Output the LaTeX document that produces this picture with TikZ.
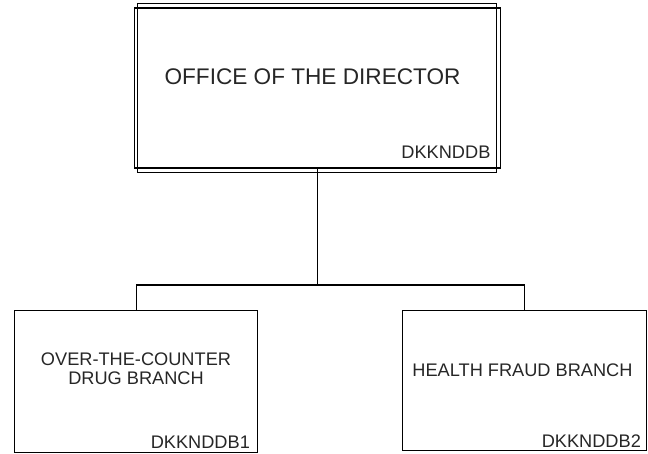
\documentclass[tikz,border=0pt]{standalone}
\usepackage{fontspec}
\setmainfont{Liberation Sans}
\begin{document}
\begin{tikzpicture}[x=1pt,y=-1pt,
  unitbox/.style={draw=black,line width=1.1pt,rectangle,inner sep=0pt,anchor=north west},
  innerframe/.style={draw=black,line width=1.1pt},
  conn/.style={draw=black,line width=1.1pt},
  titletext/.style={inner sep=0pt,text=black!85,font=\fontsize{22.6}{24}\selectfont},
  branchtext/.style={inner sep=0pt,text=black!85,align=center,font=\fontsize{18.2}{18.5}\selectfont},
  codetext/.style={inner sep=0pt,text=black!85,anchor=base east,font=\fontsize{18.2}{20}\selectfont}]
\useasboundingbox (0,0) rectangle (648,454);
% boxes
\node[unitbox,minimum width=366pt,minimum height=160pt] (top) at (133.5,7.5) {};
\draw[innerframe] ([shift={(3.8pt,3.8pt)}]top.north west) rectangle ([shift={(-3.8pt,-3.8pt)}]top.south east);
\node[unitbox,minimum width=243pt,minimum height=142pt] (left) at (14,310) {};
\node[unitbox,minimum width=244pt,minimum height=140pt] (right) at (402,310) {};
% texts
\node[titletext,anchor=base] (toptxt) at (312.5,84.5) {OFFICE OF THE DIRECTOR};
\node[codetext] (topcode) at ([xshift=-10pt,yshift=10pt]top.south east) {DKKNDDB};
\node[branchtext,anchor=north] (lefttxt) at (136,353) {OVER-THE-COUNTER\\DRUG BRANCH};
\node[codetext] (leftcode) at ([xshift=-8pt,yshift=5pt]left.south east) {DKKNDDB1};
\node[branchtext,anchor=base] (righttxt) at (522.5,376) {HEALTH FRAUD BRANCH};
\node[codetext] (rightcode) at ([xshift=-6pt,yshift=4pt]right.south east) {DKKNDDB2};
% connectors
\coordinate (bus) at (0,285);
\draw[conn] (top.south) -- (top.south |- bus);
\draw[conn] (left.north) |- (right.north |- bus) -- (right.north);
\end{tikzpicture}
\end{document}
